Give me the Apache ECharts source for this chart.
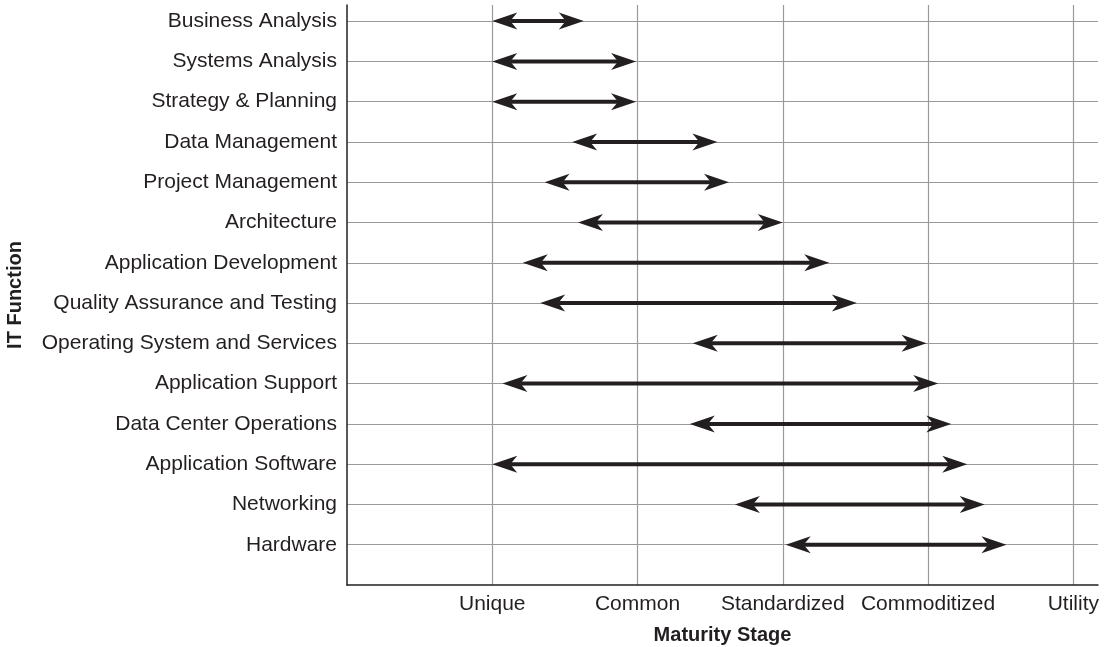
<!DOCTYPE html>
<html>
<head>
<meta charset="utf-8">
<script src="https://cdn.jsdelivr.net/npm/echarts@6/dist/echarts.min.js"></script>
<style>
html,body{margin:0;padding:0;background:#fff;}
#chart{width:1110px;height:647px;}
</style>
</head>
<body>
<div id="chart"></div>
<script>
const categories = [
  'Business Analysis',
  'Systems Analysis',
  'Strategy & Planning',
  'Data Management',
  'Project Management',
  'Architecture',
  'Application Development',
  'Quality Assurance and Testing',
  'Operating System and Services',
  'Application Support',
  'Data Center Operations',
  'Application Software',
  'Networking',
  'Hardware'
];
const stageLabels = ['', 'Unique', 'Common', 'Standardized', 'Commoditized', 'Utility'];
const startValues = [1.00, 1.00, 1.00, 1.55, 1.36, 1.59, 1.21, 1.33, 2.38, 1.07, 2.36, 1.00, 2.67, 3.02];
const endValues   = [1.63, 1.99, 1.99, 2.55, 2.63, 3.00, 3.32, 3.51, 3.99, 4.07, 4.16, 4.27, 4.39, 4.54];

const n = categories.length;
const data = categories.map((c, i) => [startValues[i], endValues[i], n - i, c]);

const FONT = '"Liberation Sans", Arial, Helvetica, sans-serif';
const TEXT = '#231f20';

const chart = echarts.init(document.getElementById('chart'), null, {renderer: 'canvas'});
chart.setOption({
  animation: false,
  backgroundColor: '#fff',
  grid: {left: 347, right: 12, top: 5, bottom: 62, containLabel: false, outerBoundsMode: 'none'},
  xAxis: {
    type: 'value',
    min: 0,
    max: 5.17,
    interval: 1,
    name: 'Maturity Stage',
    nameLocation: 'middle',
    nameGap: 40,
    nameTextStyle: {fontFamily: FONT, fontWeight: 'bold', fontSize: 20, color: TEXT},
    axisLine: {show: true, lineStyle: {color: '#231f20', width: 1.5}},
    axisTick: {show: false},
    axisLabel: {
      margin: 9,
      fontFamily: FONT, fontSize: 21, color: TEXT,
      showMaxLabel: false,
      formatter: v => (Number.isInteger(v) ? (stageLabels[v] || '') : '')
    },
    splitLine: {show: true, showMinLine: false, showMaxLine: false, lineStyle: {color: '#9a9a9a', width: 1.2}}
  },
  yAxis: {
    type: 'value',
    min: 0,
    max: 14.4,
    interval: 1,
    name: 'IT Function',
    nameLocation: 'middle',
    nameRotate: 90,
    nameGap: 322,
    nameTextStyle: {fontFamily: FONT, fontWeight: 'bold', fontSize: 20, color: TEXT},
    axisLine: {show: true, lineStyle: {color: '#231f20', width: 1.5}},
    axisTick: {show: false},
    axisLabel: {
      margin: 10,
      fontFamily: FONT, fontSize: 21, color: TEXT,
      showMaxLabel: false,
      formatter: v => (Number.isInteger(v) && v >= 1 && v <= n ? categories[n - v] : '')
    },
    splitLine: {show: true, showMinLine: false, showMaxLine: false, lineStyle: {color: '#9a9a9a', width: 1.2}}
  },
  series: [{
    type: 'custom',
    data: data,
    encode: {x: [0, 1], y: 2},
    renderItem: function (params, api) {
      const yv = api.value(2);
      const p1 = api.coord([api.value(0), yv]);
      const p2 = api.coord([api.value(1), yv]);
      const y = p1[1];
      const x1 = p1[0], x2 = p2[0];
      const L = 25, W = 8.5, N = 7;
      const style = {fill: '#231f20', stroke: null};
      return {
        type: 'group',
        children: [
          {type: 'line', shape: {x1: x1 + L - N, y1: y, x2: x2 - L + N, y2: y},
           style: {stroke: '#231f20', lineWidth: 4}},
          {type: 'polygon', shape: {points: [[x1, y], [x1 + L, y - W], [x1 + L - N, y], [x1 + L, y + W]]}, style: style},
          {type: 'polygon', shape: {points: [[x2, y], [x2 - L, y - W], [x2 - L + N, y], [x2 - L, y + W]]}, style: style}
        ]
      };
    }
  }]
});
</script>
</body>
</html>
